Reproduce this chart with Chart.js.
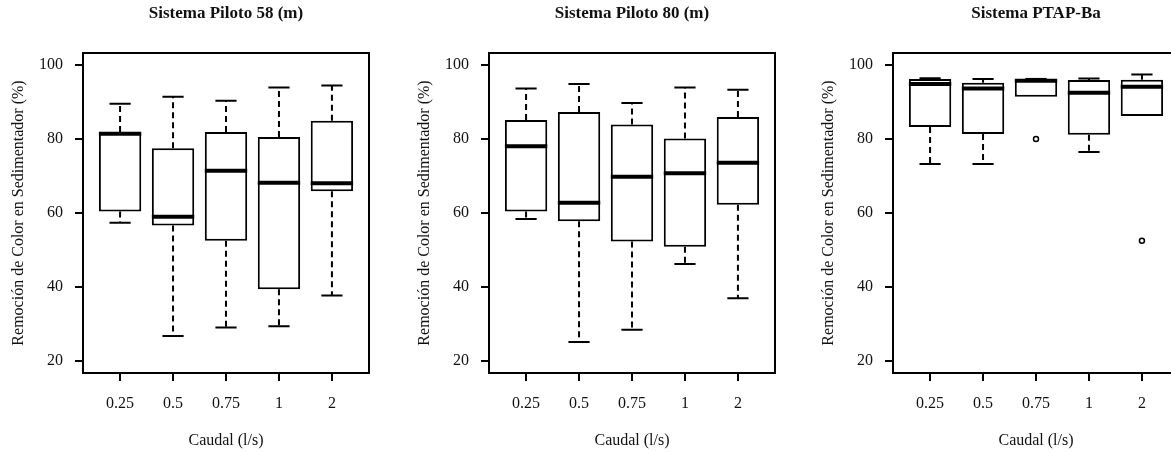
<!DOCTYPE html>
<html>
<head>
<meta charset="utf-8">
<script src="https://cdn.jsdelivr.net/npm/chart.js@4.4.1/dist/chart.umd.min.js"></script>
<style>
  html, body { margin: 0; padding: 0; background: #fff; }
  body { width: 1171px; height: 452px; position: relative; overflow: hidden; }
  canvas { position: absolute; top: 0; }
</style>
</head>
<body>
<canvas id="c58" width="400" height="452" style="left:0px"></canvas>
<canvas id="c80" width="400" height="452" style="left:406px"></canvas>
<canvas id="cba" width="400" height="452" style="left:810px"></canvas>
<script>
// --- Data ---
const categories = ['0.25', '0.5', '0.75', '1', '2'];
const yTicks = [20, 40, 60, 80, 100];

// Sistema Piloto 58 (m)
const p58Min = [57.4, 26.8, 29.1, 29.4, 37.7];
const p58Q1  = [60.4, 56.6, 52.5, 39.4, 65.9];
const p58Med = [81.4, 59.0, 71.4, 68.2, 68.0];
const p58Q3  = [81.9, 77.5, 81.9, 80.5, 84.9];
const p58Max = [89.5, 91.4, 90.3, 93.9, 94.4];

// Sistema Piloto 80 (m)
const p80Min = [58.4, 25.2, 28.5, 46.2, 37.0];
const p80Q1  = [60.4, 57.8, 52.3, 50.9, 62.2];
const p80Med = [78.0, 62.8, 69.8, 70.7, 73.6];
const p80Q3  = [85.1, 87.3, 83.9, 80.1, 85.9];
const p80Max = [93.6, 94.8, 89.7, 93.9, 93.3];

// Sistema PTAP-Ba
const baMin = [73.2, 73.2, 91.4, 76.5, 86.2];
const baQ1  = [83.2, 81.3, 91.4, 81.1, 86.2];
const baMed = [94.8, 93.6, 95.7, 92.5, 94.1];
const baQ3  = [96.2, 95.2, 96.0, 95.9, 96.0];
const baMax = [96.4, 96.2, 96.2, 96.3, 97.4];
const baOutCat = ['0.75', '2'];
const baOutVal = [80.0, 52.5];

const FONT = "'Liberation Serif', 'DejaVu Serif', serif";
const INK = '#111';

function makePanel(id, title, mins, q1s, meds, q3s, maxs, outCat, outVal) {
    // whiskers, caps, medians, frame and title drawn on top of the bar boxes
    const boxPlugin = {
        id: 'boxExtras',
        afterDatasetsDraw(chart) {
            const ctx = chart.ctx;
            const ys = chart.scales.y;
            const bars = chart.getDatasetMeta(0).data;
            ctx.save();
            ctx.strokeStyle = '#000';
            bars.forEach((bar, i) => {
                const x = bar.x;
                const half = bar.width / 2;
                const cap = half / 2;
                const yQ1 = ys.getPixelForValue(q1s[i]);
                const yQ3 = ys.getPixelForValue(q3s[i]);
                const yMin = ys.getPixelForValue(mins[i]);
                const yMax = ys.getPixelForValue(maxs[i]);
                // dashed whiskers
                ctx.lineWidth = 2;
                ctx.setLineDash([6, 4]);
                ctx.beginPath();
                if (maxs[i] > q3s[i]) { ctx.moveTo(x, yQ3); ctx.lineTo(x, yMax); }
                if (mins[i] < q1s[i]) { ctx.moveTo(x, yQ1); ctx.lineTo(x, yMin); }
                ctx.stroke();
                // staples
                ctx.setLineDash([]);
                ctx.beginPath();
                if (maxs[i] > q3s[i]) { ctx.moveTo(x - cap, yMax); ctx.lineTo(x + cap, yMax); }
                if (mins[i] < q1s[i]) { ctx.moveTo(x - cap, yMin); ctx.lineTo(x + cap, yMin); }
                ctx.stroke();
                // median
                const yMed = ys.getPixelForValue(meds[i]);
                ctx.lineWidth = 4;
                ctx.beginPath();
                ctx.moveTo(x - half, yMed);
                ctx.lineTo(x + half, yMed);
                ctx.stroke();
            });
            // plot frame
            const a = chart.chartArea;
            ctx.lineWidth = 2;
            ctx.strokeRect(a.left, a.top, a.right - a.left, a.bottom - a.top);
            // title
            ctx.fillStyle = INK;
            ctx.font = "bold 17px " + FONT;
            ctx.textAlign = 'center';
            ctx.textBaseline = 'alphabetic';
            ctx.fillText(title, (a.left + a.right) / 2, 18);
            ctx.restore();
        }
    };

    const boxData = categories.map((c, i) => ({ x: i + 1, y: [q1s[i], q3s[i]] }));
    const outData = outCat.map((c, i) => ({ x: categories.indexOf(c) + 1, y: outVal[i] }));

    return new Chart(document.getElementById(id), {
        type: 'bar',
        data: {
            datasets: [
                {
                    type: 'bar',
                    data: boxData,
                    backgroundColor: '#fff',
                    borderColor: '#000',
                    borderWidth: 2,
                    borderSkipped: false,
                    barPercentage: 0.8,
                    categoryPercentage: 1
                },
                {
                    type: 'scatter',
                    data: outData,
                    pointStyle: 'circle',
                    pointRadius: 2.5,
                    pointBorderWidth: 1.5,
                    pointBackgroundColor: '#fff',
                    pointBorderColor: '#000'
                }
            ]
        },
        options: {
            responsive: false,
            animation: false,
            layout: { padding: { top: 53, right: 31, left: 0, bottom: 0 } },
            plugins: { legend: { display: false }, tooltip: { enabled: false } },
            scales: {
                x: {
                    type: 'linear',
                    min: 0.3,
                    max: 5.7,
                    offset: false,
                    afterFit: s => { s.height = 79; },
                    afterBuildTicks: s => { s.ticks = categories.map((c, i) => ({ value: i + 1 })); },
                    ticks: {
                        callback: v => categories[v - 1],
                        font: { family: FONT, size: 16 },
                        color: INK,
                        padding: 13,
                        maxRotation: 0,
                        autoSkip: false
                    },
                    grid: { offset: false, drawOnChartArea: false, drawTicks: true, tickLength: 8, color: '#000', lineWidth: 2 },
                    border: { display: false },
                    title: {
                        display: true,
                        text: 'Caudal (l/s)',
                        font: { family: FONT, size: 16 },
                        color: INK,
                        padding: { top: 0, bottom: 2 }
                    }
                },
                y: {
                    min: 16.8,
                    max: 103.2,
                    afterFit: s => { s.width = 83; },
                    afterBuildTicks: s => { s.ticks = yTicks.map(v => ({ value: v })); },
                    ticks: {
                        font: { family: FONT, size: 16 },
                        color: INK,
                        padding: 12
                    },
                    grid: { drawOnChartArea: false, drawTicks: true, tickLength: 8, color: '#000', lineWidth: 2 },
                    border: { display: false },
                    title: {
                        display: true,
                        text: 'Remoción de Color en Sedimentador (%)',
                        font: { family: FONT, size: 16 },
                        color: INK,
                        padding: { top: 9, bottom: 0 }
                    }
                }
            }
        },
        plugins: [boxPlugin]
    });
}

makePanel('c58', 'Sistema Piloto 58 (m)', p58Min, p58Q1, p58Med, p58Q3, p58Max, [], []);
makePanel('c80', 'Sistema Piloto 80 (m)', p80Min, p80Q1, p80Med, p80Q3, p80Max, [], []);
makePanel('cba', 'Sistema PTAP-Ba', baMin, baQ1, baMed, baQ3, baMax, baOutCat, baOutVal);
</script>
</body>
</html>
